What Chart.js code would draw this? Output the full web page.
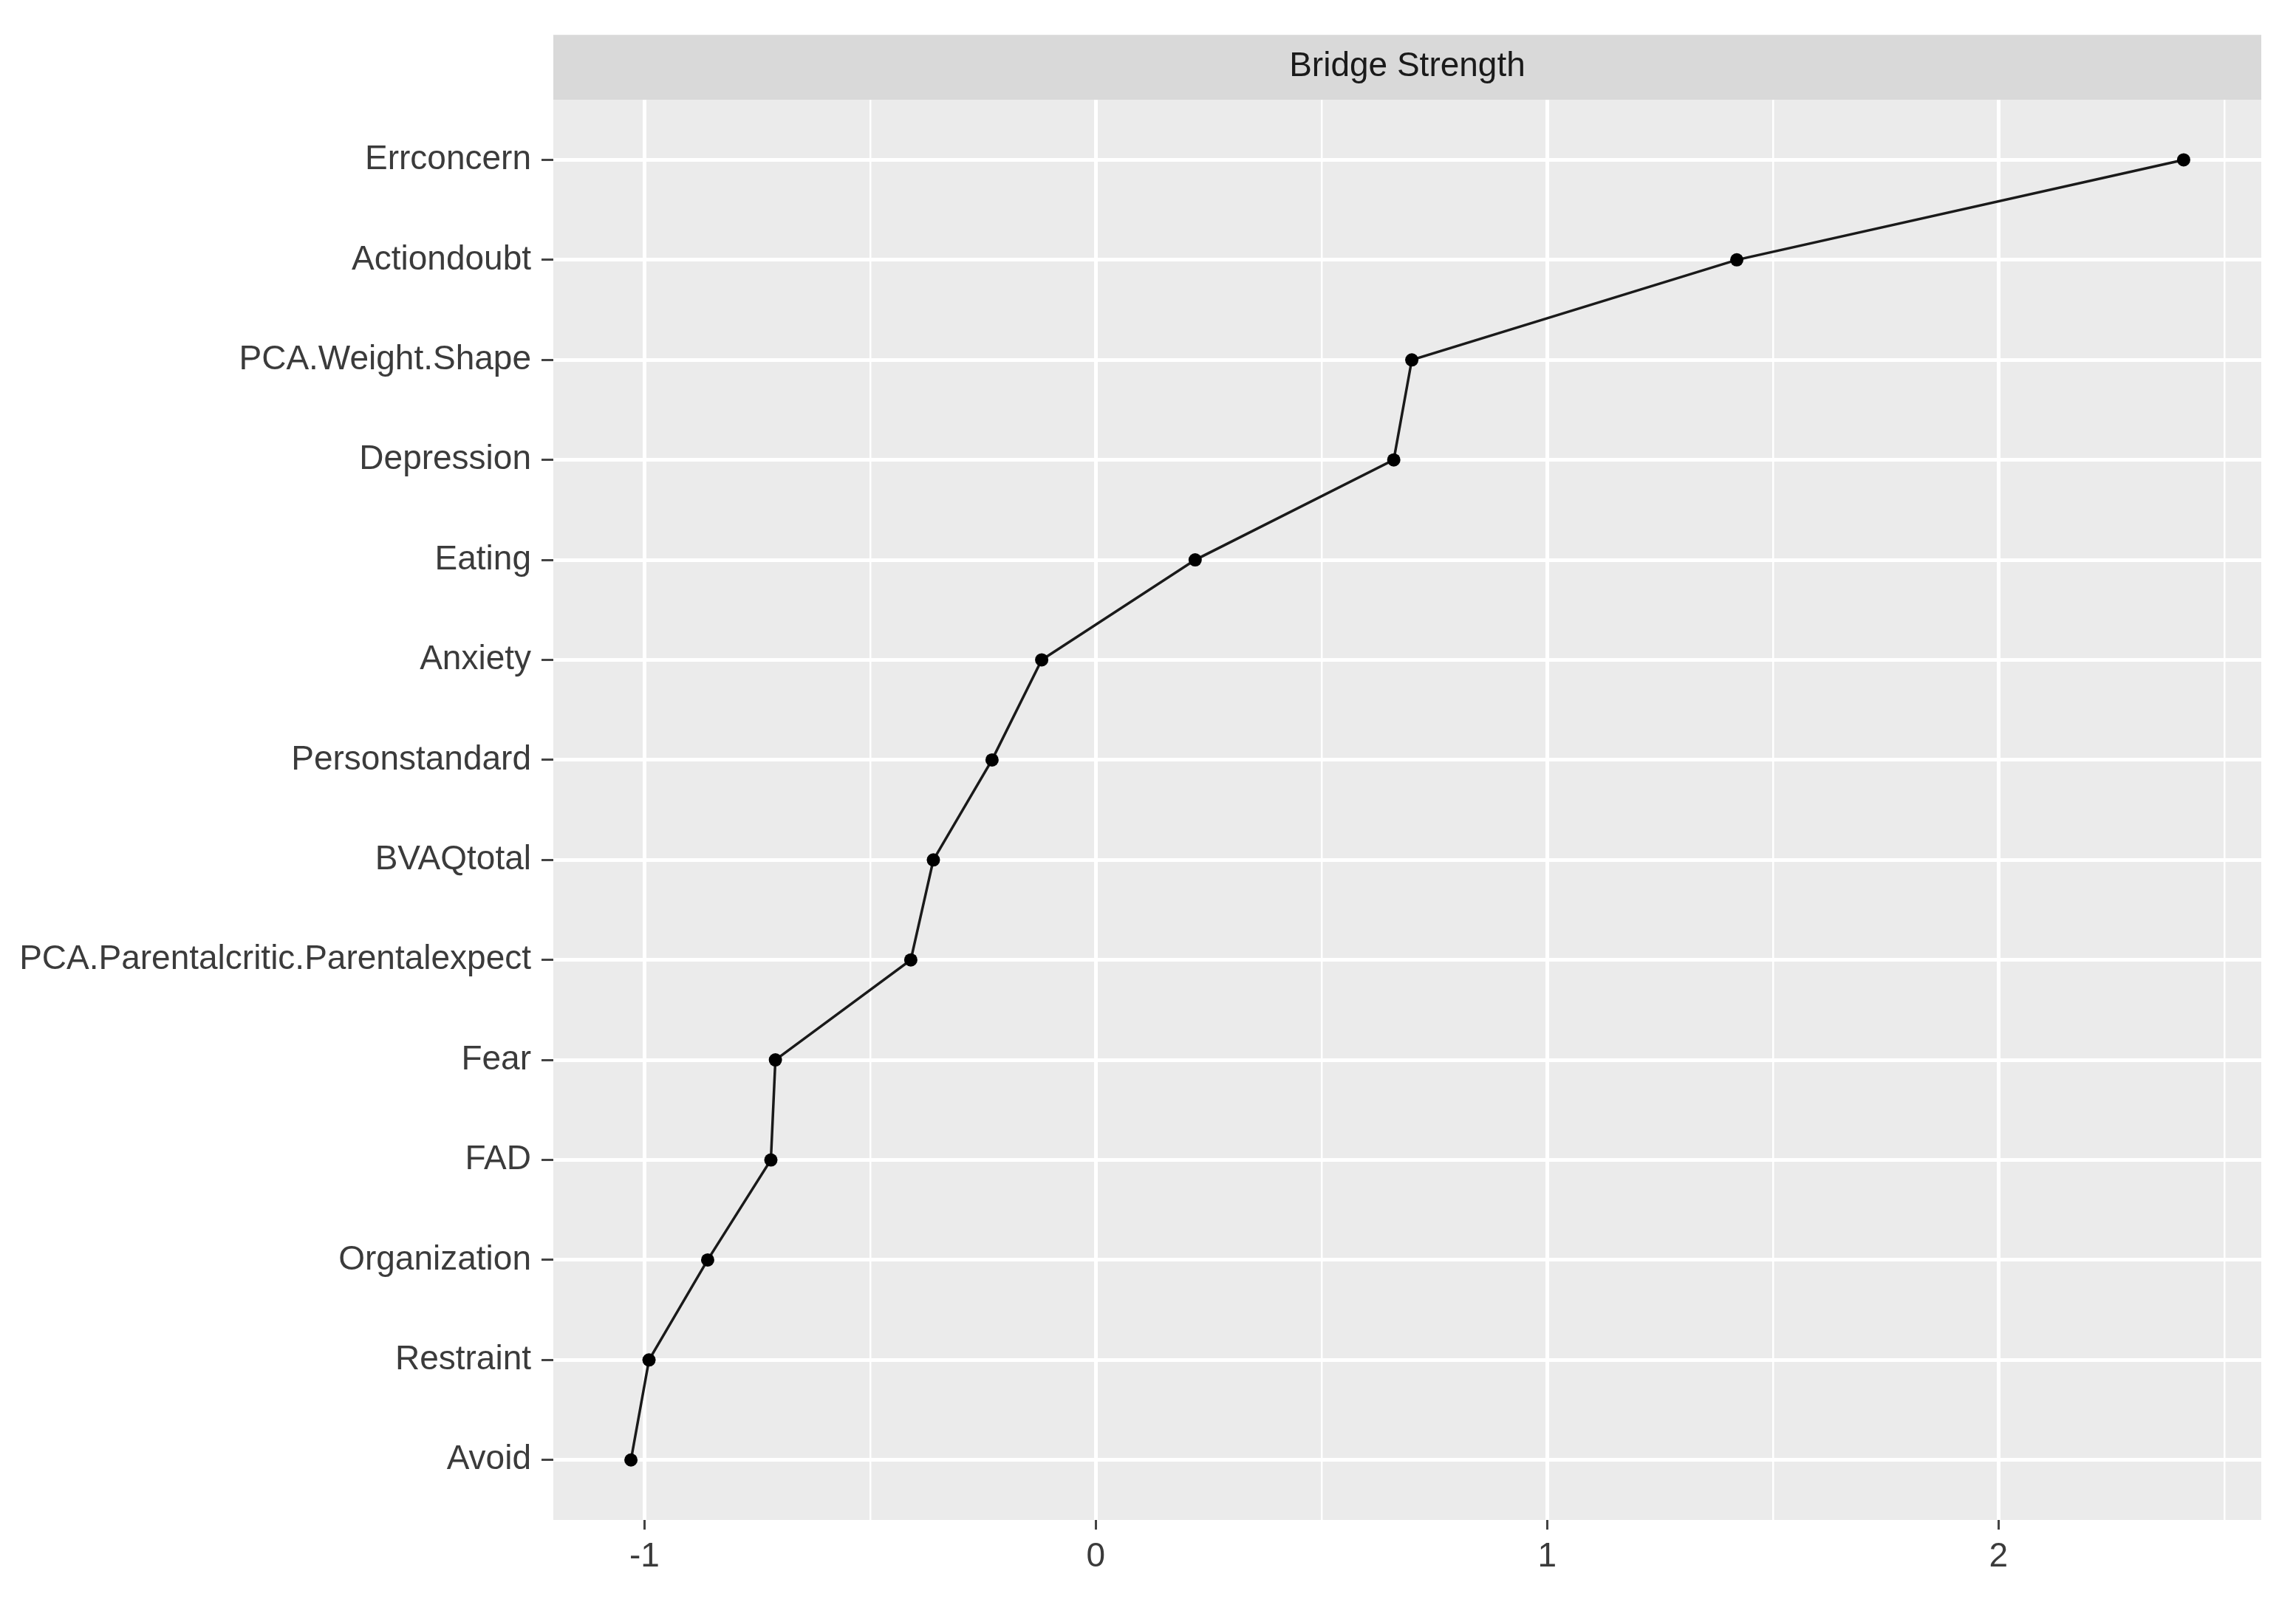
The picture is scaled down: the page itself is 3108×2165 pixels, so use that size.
<!DOCTYPE html>
<html>
<head>
<meta charset="utf-8">
<script src="https://cdn.jsdelivr.net/npm/chart.js@4.4.1/dist/chart.umd.min.js"></script>
<style>
  html, body { margin: 0; padding: 0; background: #ffffff; }
  #wrap { width: 3108px; height: 2165px; position: relative; }
</style>
</head>
<body>
<div id="wrap"><canvas id="c" width="3108" height="2165"></canvas></div>
<script>
// ---- data ----
const categories = [
  "Errconcern", "Actiondoubt", "PCA.Weight.Shape", "Depression", "Eating",
  "Anxiety", "Personstandard", "BVAQtotal", "PCA.Parentalcritic.Parentalexpect",
  "Fear", "FAD", "Organization", "Restraint", "Avoid"
];
const bridgeStrength = [
  2.41, 1.42, 0.70, 0.66, 0.22,
  -0.12, -0.23, -0.36, -0.41,
  -0.71, -0.72, -0.86, -0.99, -1.03
];
const xMajorTicks = [-1, 0, 1, 2];
const xMinorGrid = [-0.5, 0.5, 1.5, 2.5];
const facetTitle = "Bridge Strength";

// ---- derived ----
const points = categories.map((c, i) => ({ x: bridgeStrength[i], y: i }));
const xMinData = Math.min(...bridgeStrength), xMaxData = Math.max(...bridgeStrength);
const xPad = (xMaxData - xMinData) * 0.05;
const xGridValues = [...xMajorTicks, ...xMinorGrid].sort((a, b) => a - b);
const isMajor = v => xMajorTicks.some(t => Math.abs(t - v) < 1e-9);

const FONT = "'Liberation Sans', Arial, 'DejaVu Sans', sans-serif";
const STRIP_H = 88;

const panelPlugin = {
  id: 'panel',
  beforeDraw(chart) {
    const { ctx, chartArea: a } = chart;
    ctx.save();
    ctx.fillStyle = '#EBEBEB';
    ctx.fillRect(a.left, a.top, a.right - a.left, a.bottom - a.top);
    ctx.fillStyle = '#D9D9D9';
    ctx.fillRect(a.left, a.top - STRIP_H, a.right - a.left, STRIP_H);
    ctx.restore();
  }
};

new Chart(document.getElementById('c'), {
  type: 'scatter',
  data: {
    datasets: [{
      data: points,
      showLine: true,
      borderColor: '#1a1a1a',
      borderWidth: 3.5,
      backgroundColor: '#000000',
      pointBackgroundColor: '#000000',
      pointBorderWidth: 0,
      pointRadius: 9,
      pointHoverRadius: 9,
      tension: 0
    }]
  },
  options: {
    responsive: false,
    animation: false,
    devicePixelRatio: 1,
    layout: { padding: { top: 47, right: 47, bottom: 0, left: 0 } },
    plugins: {
      legend: { display: false },
      tooltip: { enabled: false },
      title: {
        display: true,
        text: facetTitle,
        fullSize: false,
        color: '#1A1A1A',
        font: { family: FONT, size: 46, weight: 'normal', lineHeight: 1.2 },
        padding: { top: 16, bottom: 17 }
      }
    },
    scales: {
      x: {
        type: 'linear',
        min: xMinData - xPad,
        max: xMaxData + xPad,
        afterBuildTicks(scale) { scale.ticks = xGridValues.map(v => ({ value: v })); },
        afterFit(scale) { scale.height = 107; },
        border: { display: false },
        grid: {
          color: '#FFFFFF',
          lineWidth: ctx => (ctx.tick && isMajor(ctx.tick.value)) ? 5 : 2.5,
          drawTicks: true,
          tickLength: 13,
          tickWidth: 3,
          tickColor: ctx => (ctx.tick && isMajor(ctx.tick.value)) ? '#444444' : 'rgba(0,0,0,0)'
        },
        ticks: {
          autoSkip: false,
          maxRotation: 0,
          padding: 10,
          color: '#3b3b3b',
          font: { family: FONT, size: 46 },
          callback: v => isMajor(v) ? String(v) : ''
        }
      },
      y: {
        type: 'linear',
        reverse: true,
        min: -0.6,
        max: categories.length - 1 + 0.6,
        afterBuildTicks(scale) { scale.ticks = categories.map((c, i) => ({ value: i })); },
        afterFit(scale) { scale.width = 749; },
        border: { display: false },
        grid: {
          color: '#FFFFFF',
          lineWidth: 5,
          drawTicks: true,
          tickLength: 16,
          tickWidth: 3,
          tickColor: '#444444'
        },
        ticks: {
          autoSkip: false,
          padding: 14,
          color: '#3b3b3b',
          font: { family: FONT, size: 46 },
          callback: v => categories[v] ?? ''
        }
      }
    }
  },
  plugins: [panelPlugin]
});
</script>
</body>
</html>
